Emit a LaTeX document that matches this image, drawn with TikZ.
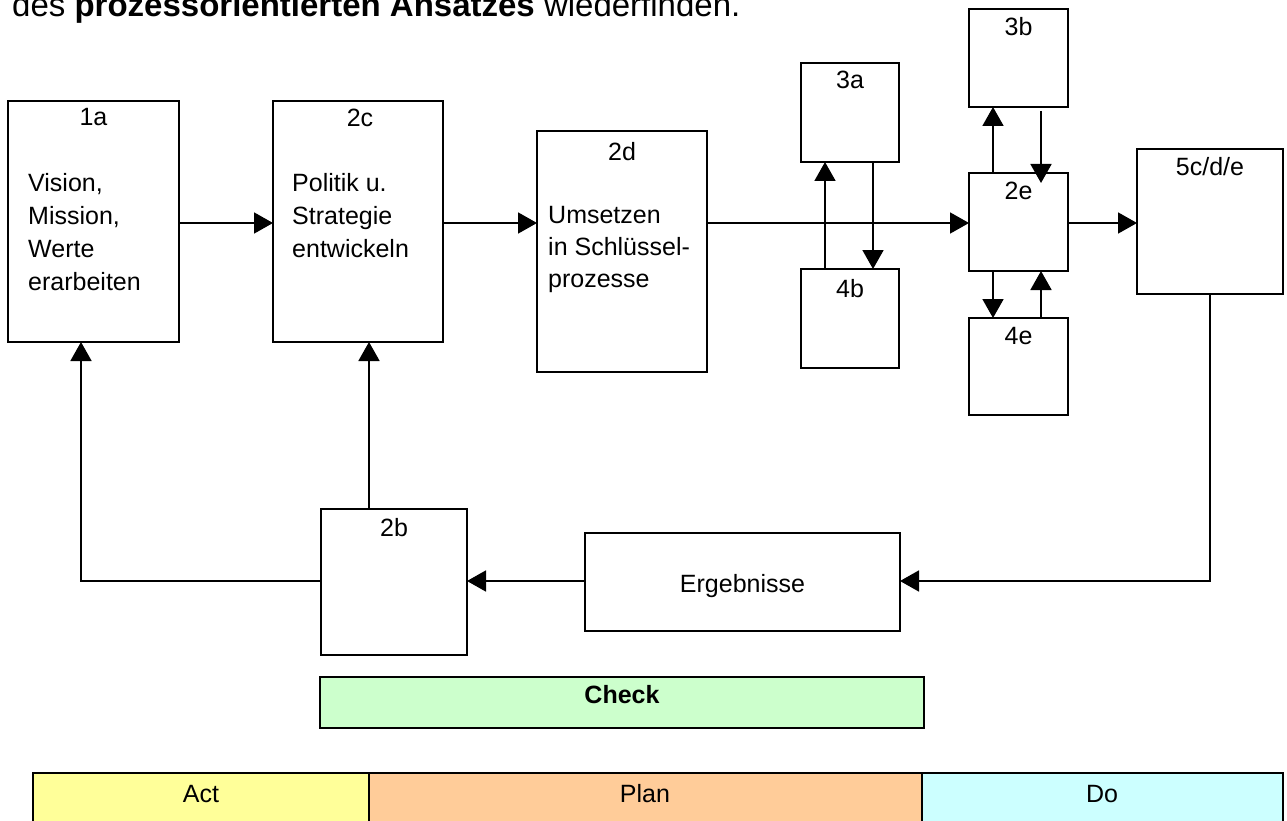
\documentclass[tikz,border=0pt]{standalone}
\usepackage{fontspec}
\setmainfont{Liberation Sans}
\usetikzlibrary{arrows.meta}
\definecolor{checkgreen}{HTML}{CCFFCC}
\definecolor{actyellow}{HTML}{FFFF99}
\definecolor{planorange}{HTML}{FFCC99}
\definecolor{docyan}{HTML}{CCFFFF}
\begin{document}
\begin{tikzpicture}[x=1pt,y=-1pt,
  box/.style={draw, line width=1.8pt, rectangle, fill=white, inner sep=0pt, outer sep=0pt, anchor=north west},
  band/.style={draw, line width=1.4pt, rectangle, inner sep=0pt, outer sep=0pt, anchor=north west},
  lbl/.style={font=\fontsize{25}{33}\selectfont, inner sep=0pt, anchor=base},
  txt/.style={font=\fontsize{25}{33}\selectfont, inner sep=0pt, anchor=base west},
  conn/.style={line width=1.8pt},
  arr/.style={conn, -{Triangle[length=19pt,width=21pt]}},
]
\clip (0,0) rectangle (1287,821);

% heading line (cut off at the top, as in the source)
\node[anchor=base west, inner sep=0pt, font=\fontsize{33}{37}\selectfont] (head) at (12,17)
  {des \textbf{prozessorientierten Ansatzes} wiederfinden.};

% boxes
\node[box, minimum width=171pt, minimum height=241pt] (a1) at (8,101) {};
\node[box, minimum width=170pt, minimum height=241pt] (c2) at (273,101) {};
\node[box, minimum width=170pt, minimum height=241pt] (d2) at (537,131) {};
\node[box, minimum width=98pt, minimum height=99pt] (a3) at (801,63) {};
\node[box, minimum width=98pt, minimum height=99pt] (b4) at (801,269) {};
\node[box, minimum width=99pt, minimum height=98pt] (b3) at (969,9) {};
\node[box, minimum width=99pt, minimum height=98pt] (e2) at (969,173) {};
\node[box, minimum width=99pt, minimum height=97pt] (e4) at (969,318) {};
\node[box, minimum width=146pt, minimum height=145pt] (cde) at (1137,149) {};
\node[box, minimum width=146pt, minimum height=146pt] (b2) at (321,509) {};
\node[box, minimum width=315pt, minimum height=98pt] (erg) at (585,533) {};

% labels
\node[lbl] (l1a) at (93.5,126) {1a};
\node[txt] (t1a) at (28,192) {\parbox[t]{150pt}{\raggedright Vision,\\Mission,\\Werte\\erarbeiten}};
\node[lbl] (l2c) at (360,127) {2c};
\node[txt] (t2c) at (292,192) {\parbox[t]{150pt}{\raggedright Politik u.\\Strategie\\entwickeln}};
\node[lbl] (l2d) at (622,161) {2d};
\node[txt] (t2d) at (548,223) {\parbox[t]{160pt}{\raggedright\baselineskip=32pt Umsetzen\\in Schlüssel-\\prozesse}};
\node[lbl] (l3a) at (850,89) {3a};
\node[lbl] (l4b) at (850,297) {4b};
\node[lbl] (l3b) at (1018.5,36) {3b};
\node[lbl] (l2e) at (1018.5,200) {2e};
\node[lbl] (l4e) at (1018.5,344) {4e};
\node[lbl] (l5) at (1210,176) {5c/d/e};
\node[lbl] (l2b) at (394,536) {2b};
\node[lbl] (lerg) at (742.5,592) {Ergebnisse};

% connectors
\coordinate (row) at (0,223);
\coordinate (lowrow) at (0,581);
\draw[arr] (a1.east |- row) -- (c2.west |- row);
\draw[arr] (c2.east |- row) -- (d2.west |- row);
\draw[arr] (d2.east |- row) -- (e2.west |- row);
\draw[arr] (e2.east |- row) -- (cde.west |- row);
\draw[arr] ([xshift=-25pt]b4.north) -- ([xshift=-25pt]a3.south);
\draw[arr] ([xshift=23pt]a3.south) -- ([xshift=23pt]b4.north);
\draw[arr] ([xshift=-25.5pt]e2.north) -- ([xshift=-25.5pt]b3.south);
\draw[arr] ([xshift=22.5pt,yshift=-4pt]b3.south) -- ([xshift=22.5pt,yshift=-10pt]e2.north);
\draw[arr] ([xshift=-25.5pt]e2.south) -- ([xshift=-25.5pt]e4.north);
\draw[arr] ([xshift=22.5pt]e4.north) -- ([xshift=22.5pt]e2.south);
\draw[arr] (cde.south) |- (erg.east |- lowrow);
\draw[arr] (erg.west |- lowrow) -- (b2.east |- lowrow);
\draw[arr] ([xshift=-25pt]b2.north) -- ([xshift=-25pt]b2.north |- c2.south);
\draw[arr] (b2.west |- lowrow) -| ([xshift=-12.5pt]a1.south);

% PDCA bands
\node[band, fill=checkgreen, minimum width=604pt, minimum height=51pt] (check) at (320,677) {};
\node[lbl, font=\fontsize{25}{30}\selectfont\bfseries] (lcheck) at (622,703) {Check};
\node[band, fill=actyellow, minimum width=336pt, minimum height=60pt] (act) at (33,773) {};
\node[band, fill=planorange, minimum width=553pt, minimum height=60pt] (plan) at (369,773) {};
\node[band, fill=docyan, minimum width=361pt, minimum height=60pt] (do) at (922,773) {};
\node[lbl] (lact) at (201,802) {Act};
\node[lbl] (lplan) at (645,802) {Plan};
\node[lbl] (ldo) at (1102,802) {Do};
\end{tikzpicture}
\end{document}
